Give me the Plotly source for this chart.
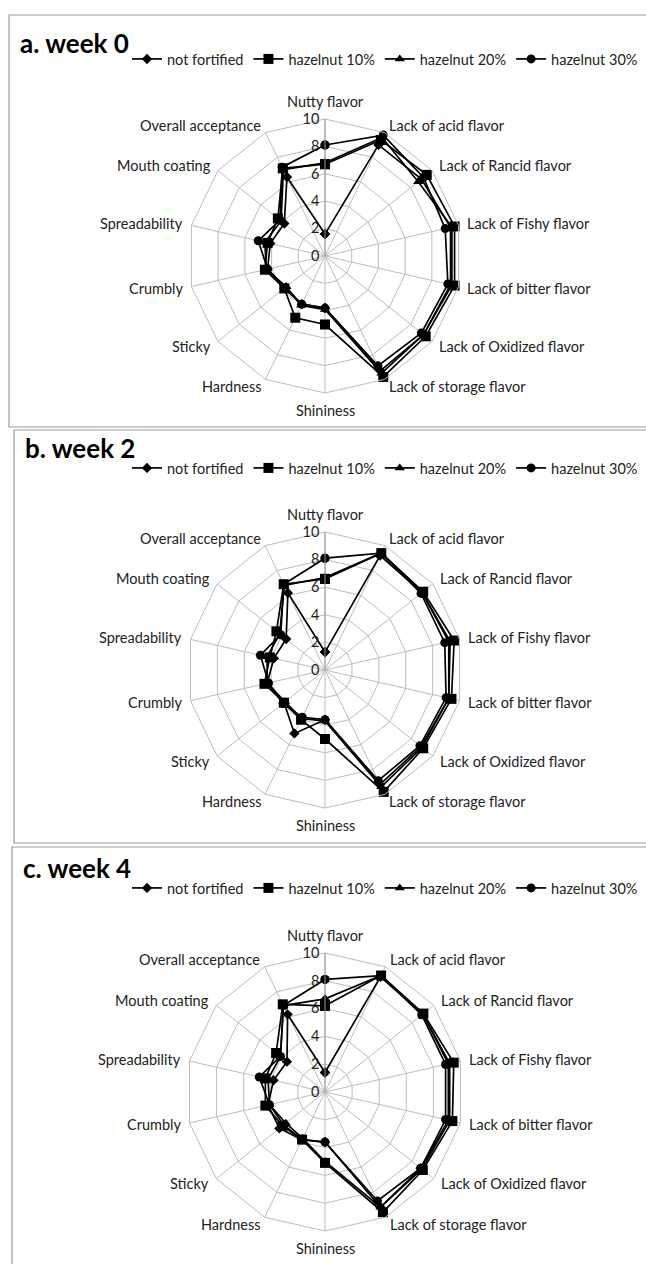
import math
import plotly.graph_objects as go

categories = ["Nutty flavor", "Lack of acid flavor", "Lack of Rancid flavor", "Lack of Fishy flavor",
              "Lack of bitter flavor", "Lack of Oxidized flavor", "Lack of storage flavor", "Shininess",
              "Hardness", "Sticky", "Crumbly", "Spreadability", "Mouth coating", "Overall acceptance"]
series_names = ["not fortified", "hazelnut 10%", "hazelnut 20%", "hazelnut 30%"]
panel_titles = ["a. week 0", "b. week 2", "c. week 4"]
radial_ticks = [0, 2, 4, 6, 8, 10]

# week 0
w0_not_fortified = [1.6, 9.0, 9.0, 9.4, 9.4, 9.2, 9.3, 3.8, 3.9, 3.7, 4.3, 4.1, 3.8, 6.4]
w0_hazelnut10 = [6.7, 9.4, 9.5, 9.7, 9.7, 9.4, 9.8, 5.0, 5.0, 3.8, 4.5, 4.3, 4.4, 7.1]
w0_hazelnut20 = [6.8, 9.6, 8.7, 9.5, 9.5, 9.2, 9.5, 3.9, 4.0, 3.6, 4.4, 4.5, 4.1, 7.0]
w0_hazelnut30 = [8.1, 9.8, 9.2, 9.0, 9.2, 9.0, 8.9, 3.8, 3.9, 3.8, 4.3, 5.0, 4.2, 7.2]
# week 2
w2_not_fortified = [1.3, 9.2, 9.0, 9.2, 9.2, 8.9, 9.2, 3.6, 5.1, 3.8, 4.3, 3.8, 3.6, 6.2]
w2_hazelnut10 = [6.6, 9.4, 9.1, 9.6, 9.4, 9.1, 9.8, 5.0, 4.0, 3.8, 4.5, 4.1, 4.5, 6.9]
w2_hazelnut20 = [6.7, 9.4, 9.0, 9.3, 9.2, 9.0, 9.4, 3.7, 3.9, 3.7, 4.3, 4.3, 4.2, 6.8]
w2_hazelnut30 = [8.1, 9.4, 8.9, 8.9, 9.0, 8.8, 8.9, 3.6, 3.8, 3.9, 4.2, 4.8, 4.1, 6.9]
# week 4
w4_not_fortified = [1.4, 9.2, 9.0, 9.1, 9.1, 8.8, 9.2, 3.6, 3.8, 4.2, 4.2, 3.8, 3.5, 6.2]
w4_hazelnut10 = [6.2, 9.3, 9.05, 9.5, 9.4, 9.0, 9.6, 5.1, 3.8, 3.9, 4.4, 4.4, 4.5, 7.0]
w4_hazelnut20 = [6.7, 9.3, 9.0, 9.2, 9.2, 8.9, 9.2, 5.0, 3.7, 3.6, 4.1, 4.2, 4.1, 6.9]
w4_hazelnut30 = [8.1, 9.3, 8.9, 8.9, 8.9, 8.8, 8.7, 3.6, 3.8, 3.8, 4.1, 4.85, 4.1, 6.9]

panels = [
    [w0_not_fortified, w0_hazelnut10, w0_hazelnut20, w0_hazelnut30],
    [w2_not_fortified, w2_hazelnut10, w2_hazelnut20, w2_hazelnut30],
    [w4_not_fortified, w4_hazelnut10, w4_hazelnut20, w4_hazelnut30],
]

W, H = 646, 1264
FONT = "Lato"
symbols = ["diamond", "square", "triangle-up", "circle"]
msizes = [8, 10, 9, 9]

# panel geometry in pixels (from top)
centers_y = [256, 670, 1092]
radii = [137, 138, 139]
center_x = 325
boxes = [(9, 15, 427), (14, 430, 843), (12, 847, 1290)]
title_y = [43, 448, 868]
legend_y = [59, 468, 888]

fig = go.Figure()
polar_names = ["polar", "polar2", "polar3"]
legend_names = ["legend", "legend2", "legend3"]

for p, data in enumerate(panels):
    for s, vals in enumerate(data):
        fig.add_trace(go.Scatterpolar(
            r=vals + [vals[0]],
            theta=categories + [categories[0]],
            mode="lines+markers",
            name=series_names[s],
            line=dict(color="black", width=1.7),
            marker=dict(symbol=symbols[s], size=msizes[s], color="black"),
            subplot=polar_names[p],
            legend=legend_names[p],
            cliponaxis=False,
        ))

layout = dict(
    width=W, height=H,
    margin=dict(l=0, r=0, t=0, b=0),
    paper_bgcolor="white",
    plot_bgcolor="white",
    font=dict(family=FONT, color="#222"),
    shapes=[],
    annotations=[],
)

n = len(categories)
for p in range(3):
    cy = centers_y[p]
    R = radii[p]
    dom_x = [(center_x - R) / W, (center_x + R) / W]
    dom_y = [(H - cy - R) / H, (H - cy + R) / H]
    layout[polar_names[p]] = dict(
        domain=dict(x=dom_x, y=dom_y),
        gridshape="linear",
        bgcolor="white",
        angularaxis=dict(
            rotation=90, direction="clockwise",
            gridcolor="#bdbdbd", gridwidth=1,
            linecolor="#bdbdbd", linewidth=1,
            showline=True, ticks="", showticklabels=False,
        ),
        radialaxis=dict(
            range=[0, 10], tickvals=radial_ticks, angle=90, tickangle=90,
            gridcolor="#bdbdbd", gridwidth=1,
            showline=True, linecolor="#9a9a9a", linewidth=1,
            ticks="", side="counterclockwise",
            tickfont=dict(family=FONT, size=14.5, color="#222"),
        ),
    )
    # category labels placed just outside each polygon vertex
    for k, cat in enumerate(categories):
        ang = 2 * math.pi * k / n
        s_, c_ = math.sin(ang), math.cos(ang)
        rr = R + 8
        px = center_x + rr * s_
        py = cy - rr * c_
        if abs(s_) < 0.01:
            xa = "center"
            ya = "bottom" if c_ > 0 else "top"
        else:
            xa = "left" if s_ > 0 else "right"
            ya = "middle"
        layout["annotations"].append(dict(
            text=cat, xref="paper", yref="paper",
            x=px / W, y=1 - py / H, xanchor=xa, yanchor=ya,
            showarrow=False, borderpad=0,
            font=dict(family=FONT, size=14.5, color="#222"),
        ))
    layout[legend_names[p]] = dict(
        orientation="h",
        x=127 / W, xanchor="left",
        y=1 - legend_y[p] / H, yanchor="middle",
        font=dict(family=FONT, size=14.5, color="#222"),
        bgcolor="rgba(0,0,0,0)",
        itemwidth=30,
        tracegroupgap=0,
    )
    x0, y0, y1 = boxes[p]
    layout["shapes"].append(dict(
        type="rect", xref="paper", yref="paper",
        x0=x0 / W, x1=1.01, y0=1 - y1 / H, y1=1 - y0 / H,
        line=dict(color="#9a9a9a", width=1.2), fillcolor="rgba(0,0,0,0)", layer="below",
    ))
    layout["annotations"].append(dict(
        text="<b>" + panel_titles[p] + "</b>",
        xref="paper", yref="paper",
        x=(x0 + 9) / W, y=1 - title_y[p] / H,
        xanchor="left", yanchor="middle", showarrow=False,
        font=dict(family=FONT, size=26, color="black"),
    ))

fig.update_layout(**layout)
fig.write_html("out.html", config={"displayModeBar": False},
               post_script="document.body.style.margin='0px';document.body.style.overflow='hidden';")
